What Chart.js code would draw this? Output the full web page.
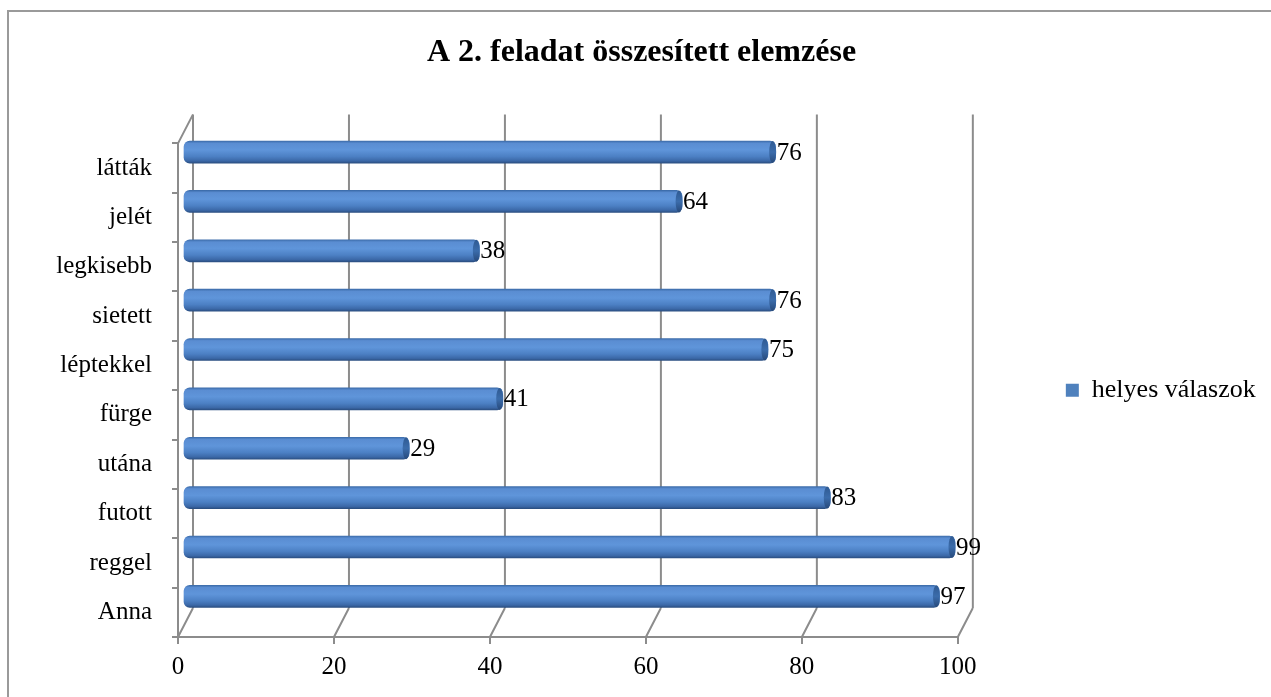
<!DOCTYPE html>
<html>
<head>
<meta charset="utf-8">
<script src="https://cdn.jsdelivr.net/npm/chart.js@4/dist/chart.umd.min.js"></script>
<style>
  html, body { margin: 0; padding: 0; background: #fff; }
  #wrap { width: 1271px; height: 697px; position: relative; }
</style>
</head>
<body>
<div id="wrap"><canvas id="chart"></canvas></div>
<script>
// data (top to bottom)
const categories = ['látták', 'jelét', 'legkisebb', 'sietett', 'léptekkel', 'fürge', 'utána', 'futott', 'reggel', 'Anna'];
const helyesValaszok = [76, 64, 38, 76, 75, 41, 29, 83, 99, 97];
const xTickValues = [0, 20, 40, 60, 80, 100];
const seriesName = 'helyes válaszok';
const chartTitle = 'A 2. feladat összesített elemzése';

const FONT = '"Liberation Serif", "Times New Roman", serif';
const AXIS_GRAY = '#8c8c8c';

// 3d look: back wall offset and bar depth offset
const DEPTH_X = 15, DEPTH_Y = -29;
const BAR_DX = 5, BAR_DY = -16;

function barGradient(c) {
  const chart = c.chart;
  if (!chart.chartArea) return '#4f81bd';
  const y = chart.scales.y.getPixelForValue(c.dataIndex);
  const g = chart.ctx.createLinearGradient(0, y - 11, 0, y + 11);
  g.addColorStop(0, '#3d6dab');
  g.addColorStop(0.1, '#5a8dd2');
  g.addColorStop(0.4, '#5f95da');
  g.addColorStop(0.7, '#4c80c4');
  g.addColorStop(0.9, '#3b68a7');
  g.addColorStop(1, '#2b4f82');
  return g;
}

const wall3d = {
  id: 'wall3d',
  beforeDraw(chart) {
    const ctx = chart.ctx;
    ctx.save();
    ctx.strokeStyle = '#9a9a9a';
    ctx.lineWidth = 2;
    ctx.strokeRect(8, 11, 1300, 720);
    ctx.restore();
  },
  beforeDatasetsDraw(chart) {
    const { ctx, chartArea: a, scales: { x } } = chart;
    ctx.save();
    ctx.strokeStyle = AXIS_GRAY;
    ctx.lineWidth = 2;
    ctx.beginPath();
    xTickValues.forEach(v => {
      const px = x.getPixelForValue(v);
      ctx.moveTo(px + DEPTH_X, a.top + DEPTH_Y);
      ctx.lineTo(px + DEPTH_X, a.bottom + DEPTH_Y);
      ctx.moveTo(px, a.bottom);
      ctx.lineTo(px + DEPTH_X, a.bottom + DEPTH_Y);
    });
    ctx.moveTo(a.left, a.top);
    ctx.lineTo(a.left + DEPTH_X, a.top + DEPTH_Y);
    ctx.stroke();
    ctx.restore();
    // bars sit half way into the depth
    ctx.save();
    ctx.translate(BAR_DX, BAR_DY);
  },
  afterDatasetsDraw(chart) {
    const ctx = chart.ctx;
    const meta = chart.getDatasetMeta(0);
    meta.data.forEach((bar, i) => {
      const h = bar.height;
      const g = ctx.createLinearGradient(0, bar.y - h / 2, 0, bar.y + h / 2);
      g.addColorStop(0, '#2f5a92');
      g.addColorStop(0.5, '#3b6cab');
      g.addColorStop(1, '#27497a');
      ctx.fillStyle = g;
      ctx.beginPath();
      ctx.ellipse(bar.x - 3, bar.y, 3.5, h / 2, 0, 0, Math.PI * 2);
      ctx.fill();
      ctx.fillStyle = '#000';
      ctx.font = '25px ' + FONT;
      ctx.textAlign = 'left';
      ctx.textBaseline = 'middle';
      ctx.fillText(String(helyesValaszok[i]), bar.x + 1, bar.y + 1);
    });
    ctx.restore();
  }
};

new Chart(document.getElementById('chart'), {
  type: 'bar',
  data: {
    labels: categories,
    datasets: [{
      label: seriesName,
      data: helyesValaszok,
      backgroundColor: barGradient,
      borderRadius: 6,
      borderSkipped: false,
      barThickness: 22,
      clip: false
    }]
  },
  options: {
    indexAxis: 'y',
    responsive: true,
    maintainAspectRatio: false,
    animation: false,
    layout: { padding: { left: 20, right: 8, top: 13, bottom: 0 } },
    scales: {
      x: {
        min: 0,
        max: 100,
        afterBuildTicks: s => { s.ticks = xTickValues.map(v => ({ value: v })); },
        afterFit: s => { s.height = 60; },
        border: { color: AXIS_GRAY, width: 2 },
        grid: { drawOnChartArea: false, color: AXIS_GRAY, lineWidth: 2, tickLength: 7 },
        ticks: { color: '#000', font: { family: FONT, size: 25 }, padding: 8 }
      },
      y: {
        afterFit: s => { s.width = 158; },
        border: { color: AXIS_GRAY, width: 2 },
        grid: { drawOnChartArea: false, offset: true, color: AXIS_GRAY, lineWidth: 2, tickLength: 6 },
        ticks: { color: '#000', font: { family: FONT, size: 25 }, padding: 20 }
      },
      ySpace: {
        type: 'category',
        position: 'right',
        afterFit: s => { s.width = 98; },
        border: { display: false },
        grid: { display: false },
        ticks: { display: false }
      }
    },
    plugins: {
      title: {
        display: true,
        text: chartTitle,
        color: '#000',
        font: { family: FONT, size: 32, weight: 'bold' },
        padding: { top: 21, bottom: 71 }
      },
      legend: {
        position: 'right',
        fullSize: false,
        labels: {
          color: '#000',
          boxWidth: 13,
          boxHeight: 13,
          padding: 10,
          font: { family: FONT, size: 26 },
          generateLabels: chart => Chart.defaults.plugins.legend.labels.generateLabels(chart)
            .map(item => Object.assign(item, { fillStyle: '#4f81bd', strokeStyle: '#4f81bd', lineWidth: 0 }))
        }
      },
      tooltip: { enabled: false }
    }
  },
  plugins: [wall3d]
});
</script>
</body>
</html>
